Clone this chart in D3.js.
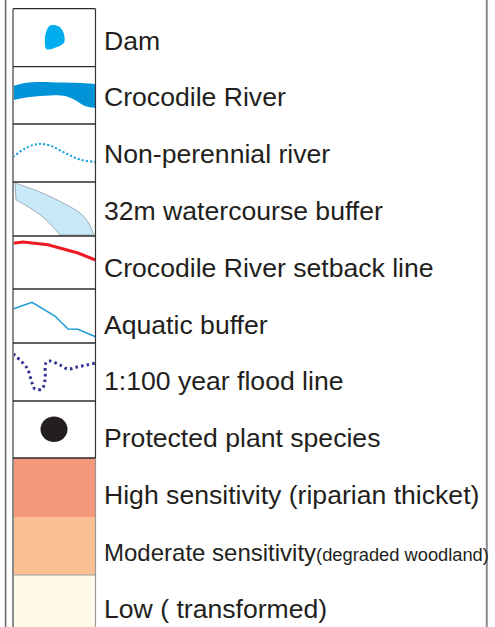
<!DOCTYPE html>
<html>
<head>
<meta charset="utf-8">
<script src="https://cdn.jsdelivr.net/npm/d3@7"></script>
<style>
  body { margin: 0; background: #fff; }
  svg { display: block; }
</style>
</head>
<body>
<svg id="chart" width="495" height="627"></svg>
<script>
// legend entries, top to bottom
var labels = [
  "Dam",
  "Crocodile River",
  "Non-perennial river",
  "32m watercourse buffer",
  "Crocodile River setback line",
  "Aquatic buffer",
  "1:100 year flood line",
  "Protected plant species",
  "High sensitivity (riparian thicket)",
  "Moderate sensitivity",
  "Low ( transformed)"
]
var subLabels = ["", "", "", "", "", "", "", "", "", "(degraded woodland)", ""]
var symbolTypes = ["dam", "river", "dotted", "buffer", "setback", "aquatic", "flood", "plant", "fill", "fill", "fill"]
var fillColors = [null, null, null, null, null, null, null, null, "#f4987b", "#fbbf94", "#fffbe8"]

// layout
var W = 495, H = 627
var boxL = 13, boxR = 95.5, textX = 104
var rowH = [58, 57.3, 58, 54, 53, 54, 58, 57, 59, 58, 58]
var tops = [8.7]
rowH.forEach((h, i) => tops.push(tops[i] + h))
// label centres run on an even step, independent of the swatch cells
var textY = d3.scalePoint().domain(labels).range([40, 608])

var svg = d3.select('#chart')

// outer frame lines
svg.append('line').attr('x1', 5.6).attr('x2', 5.6).attr('y1', 0).attr('y2', H)
  .attr('stroke', '#6b6b6b').attr('stroke-width', 1.6)
svg.append('line').attr('x1', 486.8).attr('x2', 486.8).attr('y1', 0).attr('y2', H)
  .attr('stroke', '#8c8c8c').attr('stroke-width', 2)

var rows = svg.selectAll('g.row')
  .data(labels)
  .enter().append('g')
  .attr('class', 'row')
  .attr('transform', (d, i) => 'translate(' + boxL + ',' + tops[i] + ')')

// fills for sensitivity rows
rows.filter((d, i) => fillColors[i])
  .append('rect')
  .attr('x', 0).attr('y', 0)
  .attr('width', boxR - boxL)
  .attr('height', d => rowH[labels.indexOf(d)])
  .attr('fill', d => fillColors[labels.indexOf(d)])

// symbol shapes in swatch-local pixels
var sx = d3.scaleLinear().domain([0, 82.5]).range([0, 82.5])
var sy = d3.scaleLinear().domain([0, 58]).range([0, 58])
var smoothLine = d3.line().x(p => sx(p[0])).y(p => sy(p[1])).curve(d3.curveCatmullRom)
var straightLine = d3.line().x(p => sx(p[0])).y(p => sy(p[1]))
var blobLine = d3.line().x(p => sx(p[0])).y(p => sy(p[1])).curve(d3.curveCatmullRomClosed)

var damShape = [[37, 16.8], [45, 17.3], [49.7, 22], [51.3, 33.5], [44, 38.3], [33.5, 40.5], [31.8, 33], [33, 23.5]]
var riverTop = [[0, 19.3], [12, 16.3], [27, 15.3], [47, 15.8], [67, 16.3], [82.5, 17.3]]
var riverBottom = [[82.5, 41.3], [72, 39.3], [62, 33.3], [52, 29.3], [37, 28.8], [17, 30.3], [0, 33.3]]
var dottedPts = [[0, 33], [12, 24.5], [25, 20], [37, 21.5], [52, 29], [67, 35.5], [82.5, 38]]
var bufferTop = [[2, 1], [27, 10], [52, 22], [67, 31], [75, 40], [81, 53]]
var bufferBottom = [[47, 53], [40, 45], [30, 35], [17, 26], [3, 18]]
var setbackPts = [[0, 7.3], [10, 6], [35, 8.7], [54, 14], [65, 17], [82.5, 24]]
var aquaticPts = [[0, 20], [19, 13.3], [42, 27], [55, 40], [65, 40.3], [82.5, 47.7]]
var floodPts = [[0.3, 11], [14, 25], [19, 40], [22, 46], [29, 46], [32, 37], [33, 20], [37, 18], [47, 22], [55, 26], [64, 24], [74, 22], [82.5, 20]]

rows.each(function (d, i) {
  var g = d3.select(this)
  var t = symbolTypes[i]
  if (t == 'dam') {
    g.append('path').attr('d', blobLine(damShape)).attr('fill', '#00aeef')
  }
  if (t == 'river') {
    g.append('path')
      .attr('d', smoothLine(riverTop) + 'L' + smoothLine(riverBottom).slice(1) + 'Z')
      .attr('fill', '#0093d8')
  }
  if (t == 'dotted') {
    g.append('path').attr('d', smoothLine(dottedPts))
      .attr('fill', 'none').attr('stroke', '#1ba3e3')
      .attr('stroke-width', 2).attr('stroke-dasharray', '2.2,2')
  }
  if (t == 'buffer') {
    g.append('path')
      .attr('d', smoothLine(bufferTop) + 'L' + smoothLine(bufferBottom).slice(1) + 'Z')
      .attr('fill', '#c9e8f8').attr('stroke', '#8d9ba6').attr('stroke-width', 0.8)
  }
  if (t == 'setback') {
    g.append('path').attr('d', straightLine(setbackPts))
      .attr('fill', 'none').attr('stroke', '#ed1c24').attr('stroke-width', 3)
  }
  if (t == 'aquatic') {
    g.append('path').attr('d', straightLine(aquaticPts))
      .attr('fill', 'none').attr('stroke', '#1b9ad7').attr('stroke-width', 1.5)
  }
  if (t == 'flood') {
    g.append('path').attr('d', smoothLine(floodPts))
      .attr('fill', 'none').attr('stroke', '#2e3192')
      .attr('stroke-width', 3).attr('stroke-dasharray', '2.5,3.2')
  }
  if (t == 'plant') {
    g.append('ellipse').attr('cx', sx(41)).attr('cy', sy(28.3))
      .attr('rx', 13.5).attr('ry', 12.7).attr('fill', '#231f20')
  }
})

// swatch box borders
var symRows = 8
svg.append('line').attr('x1', boxL).attr('x2', boxL).attr('y1', tops[0]).attr('y2', H)
  .attr('stroke', '#8a8a8a').attr('stroke-width', 2)
svg.append('line').attr('x1', boxR).attr('x2', boxR).attr('y1', tops[0]).attr('y2', tops[symRows])
  .attr('stroke', '#333').attr('stroke-width', 1.2)
svg.append('line').attr('x1', boxR).attr('x2', boxR).attr('y1', tops[symRows]).attr('y2', H)
  .attr('stroke', '#999').attr('stroke-width', 1.2)
svg.selectAll('line.div')
  .data(d3.range(0, symRows + 1))
  .enter().append('line')
  .attr('class', 'div')
  .attr('x1', boxL).attr('x2', boxR)
  .attr('y1', i => tops[i]).attr('y2', i => tops[i])
  .attr('stroke', '#2b2b2b').attr('stroke-width', 1.3)
svg.append('line').attr('x1', boxL).attr('x2', boxR)
  .attr('y1', tops[10]).attr('y2', tops[10])
  .attr('stroke', '#999').attr('stroke-width', 1.2)

// labels
var txt = svg.selectAll('text.label')
  .data(labels)
  .enter().append('text')
  .attr('class', 'label')
  .attr('x', textX)
  .attr('y', d => textY(d) + 9.5)
  .attr('font-family', '"Liberation Sans", Arial, sans-serif')
  .attr('font-size', (d, i) => i == 9 ? 24 : 26.6)
  .attr('fill', '#231f20')
txt.append('tspan').text(d => d)
txt.append('tspan')
  .attr('font-size', 18.3)
  .text((d, i) => subLabels[i])
</script>
</body>
</html>
